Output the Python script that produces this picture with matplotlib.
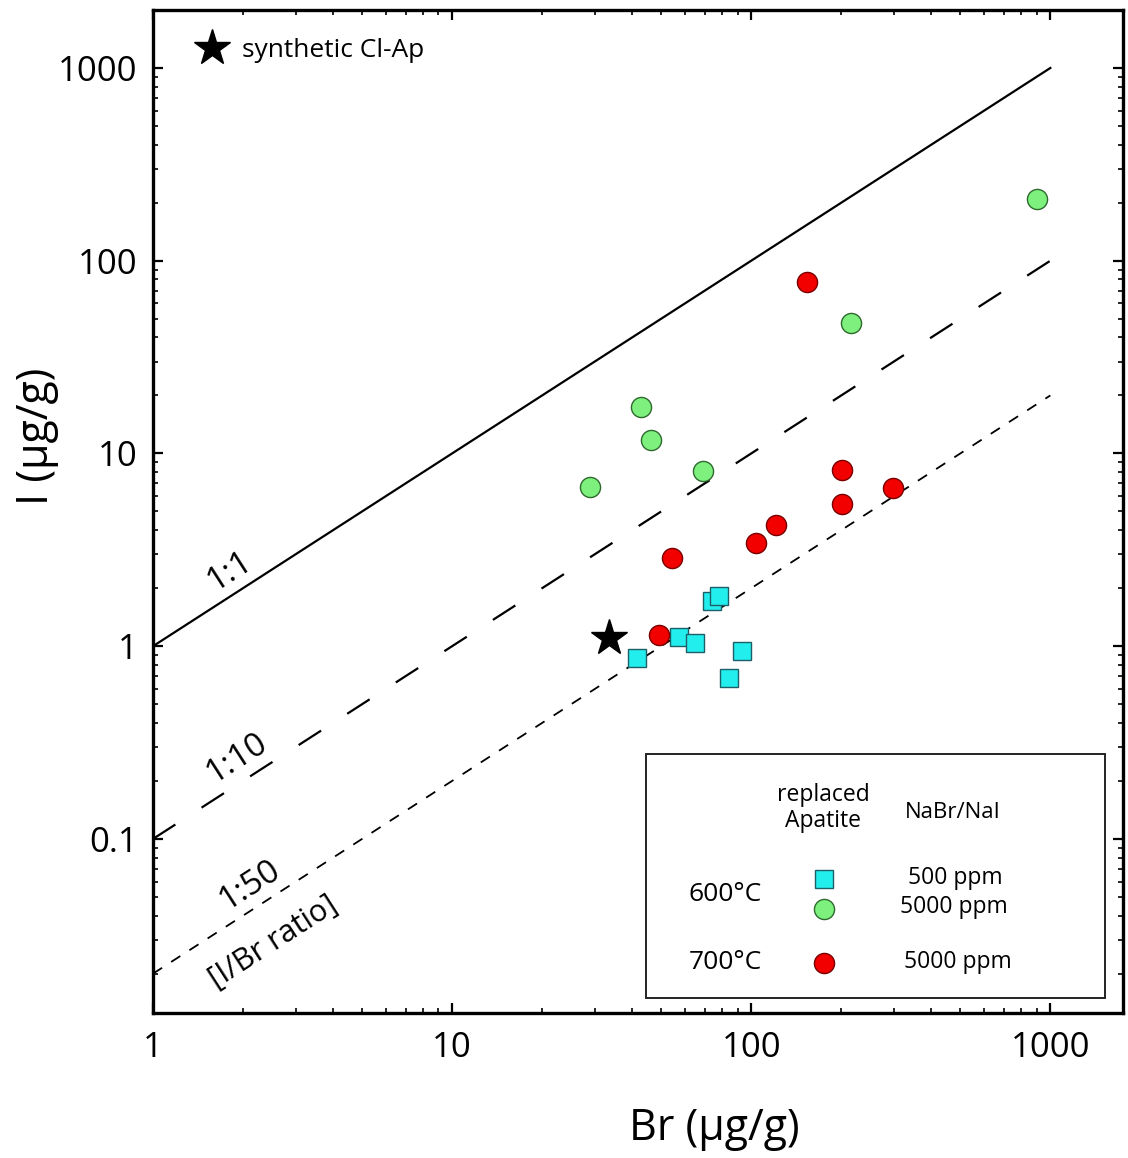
import numpy as np
import matplotlib
matplotlib.use("Agg")
import matplotlib.pyplot as plt
from matplotlib.patches import Rectangle
from matplotlib.ticker import LogLocator, FixedLocator, FixedFormatter, NullFormatter

plt.rcParams['font.family'] = ['Open Sans', 'DejaVu Sans']

# Br / I concentrations (µg/g) of replaced apatite
br_600_500 = [41.6, 57.4, 65.0, 74.1, 78.2, 93.3, 84.4]
i_600_500 = [0.866, 1.114, 1.036, 1.71, 1.82, 0.942, 0.682]

br_600_5000 = [903, 216, 42.9, 46.3, 69.1, 28.9]
i_600_5000 = [210, 47.5, 17.4, 11.75, 8.11, 6.70]

br_700_5000 = [153.6, 201, 201, 298, 121, 104, 54.4, 49.3]
i_700_5000 = [77.5, 8.21, 5.47, 6.62, 4.25, 3.43, 2.87, 1.15]

br_synth = [33.5]
i_synth = [1.10]

# I/Br reference ratios
ratios = [1.0, 0.1, 0.02]
ratio_labels = ['1:1', '1:10', '1:50']
ratio_br = [1, 1000]

x_ticks = [1, 10, 100, 1000]
x_ticklabels = ['1', '10', '100', '1000']
y_ticks = [0.1, 1, 10, 100, 1000]
y_ticklabels = ['0.1', '1', '10', '100', '1000']

GREEN = '#7DF07D'
RED = '#F20000'
CYAN = '#22EEEE'

fig = plt.figure(figsize=(11.28, 11.58), dpi=100)
ax = fig.add_axes([0.1356, 0.1252, 0.8600, 0.8662])
ax.set_xscale('log')
ax.set_yscale('log')
ax.set_xlim(1, 1750)
ax.set_ylim(0.0125, 2000)

# reference ratio lines: solid, long dash, short dash
line_styles = ['-', (0, (12, 14)), (0, (6, 6))]
line_widths = [1.6, 1.6, 1.3]
for r, ls, lw in zip(ratios, line_styles, line_widths):
    ax.plot(ratio_br, [b * r for b in ratio_br], color='black',
            linestyle=ls, lw=lw, zorder=1)

ax.plot(br_600_500, i_600_500, 's', ms=12.5, mfc=CYAN, mec='#1d5f66', mew=1.0, zorder=3)
ax.plot(br_600_5000, i_600_5000, 'o', ms=14.5, mfc=GREEN, mec='#2f6a2f', mew=1.0, zorder=3)
ax.plot(br_700_5000, i_700_5000, 'o', ms=14.5, mfc=RED, mec='#7a0000', mew=1.0, zorder=3)
ax.plot(br_synth, i_synth, '*', ms=27, color='black', zorder=4)

# slope of the ratio lines on screen
fig.canvas.draw()
p0 = ax.transData.transform((1, 1))
p1 = ax.transData.transform((1000, 1000))
angle = np.degrees(np.arctan2(p1[1] - p0[1], p1[0] - p0[0]))

ax.text(1.81, 2.45, ratio_labels[0], rotation=angle, fontsize=24,
        ha='center', va='center', rotation_mode='anchor')
ax.text(1.92, 0.262, ratio_labels[1], rotation=angle, fontsize=24,
        ha='center', va='center', rotation_mode='anchor')
ax.text(2.11, 0.058, ratio_labels[2], rotation=angle, fontsize=24,
        ha='center', va='center', rotation_mode='anchor')
ax.text(2.52, 0.029, '[I/Br ratio]', rotation=angle, fontsize=22,
        ha='center', va='center', rotation_mode='anchor')

# axes styling
for s in ax.spines.values():
    s.set_linewidth(2.4)
ax.xaxis.set_major_locator(FixedLocator(x_ticks))
ax.xaxis.set_major_formatter(FixedFormatter(x_ticklabels))
ax.yaxis.set_major_locator(FixedLocator(y_ticks))
ax.yaxis.set_major_formatter(FixedFormatter(y_ticklabels))
ax.xaxis.set_minor_locator(LogLocator(base=10, subs=np.arange(2, 10), numticks=20))
ax.yaxis.set_minor_locator(LogLocator(base=10, subs=np.arange(2, 10), numticks=20))
ax.xaxis.set_minor_formatter(NullFormatter())
ax.yaxis.set_minor_formatter(NullFormatter())
ax.tick_params(which='both', direction='in', top=True, right=True)
ax.tick_params(which='major', length=7, width=1.6, labelsize=25)
ax.tick_params(which='minor', length=3.5, width=1.2)
ax.tick_params(axis='x', which='major', pad=13)
ax.tick_params(axis='y', which='major', pad=11)

ax.set_xlabel('Br (µg/g)', fontsize=31)
ax.xaxis.set_label_coords(0.579, -0.093)
ax.set_ylabel('I (µg/g)', fontsize=31)
ax.yaxis.set_label_coords(-0.097, 0.575)

# key
ax.plot([0.0605], [0.962], '*', ms=27, color='black', transform=ax.transAxes)
ax.text(0.0914, 0.960, 'synthetic Cl-Ap', fontsize=19, ha='left', va='center',
        transform=ax.transAxes)

ax.add_patch(Rectangle((0.508, 0.015), 0.473, 0.243, transform=ax.transAxes,
                       fill=False, lw=1.4, edgecolor='#222222', zorder=5))
ax.text(0.691, 0.204, 'replaced\nApatite', fontsize=16.5, ha='center', va='center',
        linespacing=1.1, transform=ax.transAxes)
ax.text(0.825, 0.200, 'NaBr/NaI', fontsize=16, ha='center', va='center',
        transform=ax.transAxes)
ax.text(0.590, 0.118, '600°C', fontsize=19, ha='center', va='center',
        transform=ax.transAxes)
ax.text(0.590, 0.050, '700°C', fontsize=19, ha='center', va='center',
        transform=ax.transAxes)
ax.plot([0.692], [0.134], 's', ms=12.5, mfc=CYAN, mec='#1d5f66', mew=1.0,
        transform=ax.transAxes)
ax.plot([0.692], [0.104], 'o', ms=14.5, mfc=GREEN, mec='#2f6a2f', mew=1.0,
        transform=ax.transAxes)
ax.plot([0.692], [0.050], 'o', ms=14.5, mfc=RED, mec='#7a0000', mew=1.0,
        transform=ax.transAxes)
ax.text(0.827, 0.135, '500 ppm', fontsize=16.5, ha='center', va='center',
        transform=ax.transAxes)
ax.text(0.826, 0.106, '5000 ppm', fontsize=16.5, ha='center', va='center',
        transform=ax.transAxes)
ax.text(0.830, 0.051, '5000 ppm', fontsize=16.5, ha='center', va='center',
        transform=ax.transAxes)

fig.savefig('out.png', dpi=100)
